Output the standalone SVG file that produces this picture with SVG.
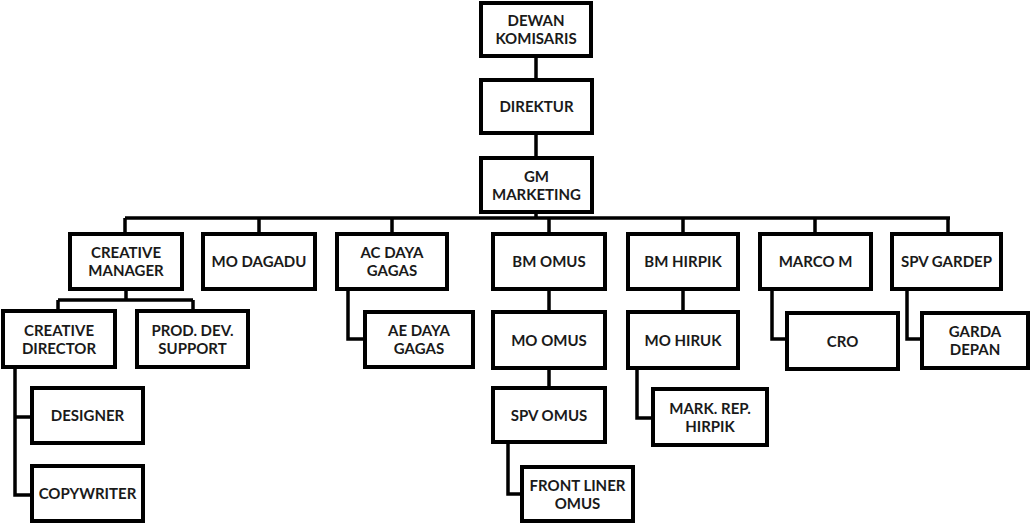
<svg xmlns="http://www.w3.org/2000/svg" width="1031" height="523" viewBox="0 0 1031 523">
<style>
.b{fill:#fff;stroke:#000;stroke-width:4}
.t{font-family:Lato,"Open Sans",sans-serif;font-weight:bold;font-size:15px;fill:#1a1a1a;text-anchor:middle}
.c{fill:none;stroke:#000;stroke-width:3.5}
</style>
<rect width="1031" height="523" fill="#fff"/>
<g id="connectors">
<path class="c" d="M536 56V80M536 133V158M536 212V218M125 218H950M125 218V234M259 218V234M392 218V234M549 218V234M683 218V234M815 218V234M948 218V234"/>
<path class="c" d="M126 289V300M58 300H193M58 300V311M193 300V311M15 367V495H32M15 417H32"/>
<path class="c" d="M348 289V339H365M549 289V312M549 368V388M508 442V494H522M683 289V312M637 368V418H653M772 289V339H787M907 289V339H922"/>
</g>
<g id="dewan"><rect class="b" x="481" y="3" width="110" height="53"/><text class="t" x="536" y="26">DEWAN</text><text class="t" x="536" y="44">KOMISARIS</text></g>
<g id="direktur"><rect class="b" x="481" y="80" width="111" height="53"/><text class="t" x="536.5" y="112">DIREKTUR</text></g>
<g id="gm"><rect class="b" x="481" y="158" width="111" height="54"/><text class="t" x="536.5" y="181.5">GM</text><text class="t" x="536.5" y="199.5">MARKETING</text></g>
<g id="creative-manager"><rect class="b" x="70" y="234" width="112" height="55"/><text class="t" x="126" y="258">CREATIVE</text><text class="t" x="126" y="276">MANAGER</text></g>
<g id="mo-dagadu"><rect class="b" x="203" y="234" width="112" height="55"/><text class="t" x="259" y="267">MO DAGADU</text></g>
<g id="ac-daya-gagas"><rect class="b" x="337" y="234" width="110" height="55"/><text class="t" x="392" y="258">AC DAYA</text><text class="t" x="392" y="276">GAGAS</text></g>
<g id="bm-omus"><rect class="b" x="493" y="234" width="112" height="55"/><text class="t" x="549" y="267">BM OMUS</text></g>
<g id="bm-hirpik"><rect class="b" x="628" y="234" width="110" height="55"/><text class="t" x="683" y="267">BM HIRPIK</text></g>
<g id="marco-m"><rect class="b" x="760" y="234" width="111" height="55"/><text class="t" x="815.5" y="267">MARCO M</text></g>
<g id="spv-gardep"><rect class="b" x="892" y="234" width="109" height="55"/><text class="t" x="946.5" y="267">SPV GARDEP</text></g>
<g id="creative-director"><rect class="b" x="3" y="311" width="112" height="56"/><text class="t" x="59" y="335.5">CREATIVE</text><text class="t" x="59" y="353.5">DIRECTOR</text></g>
<g id="prod-dev-support"><rect class="b" x="137" y="311" width="111" height="56"/><text class="t" x="192.5" y="335.5">PROD. DEV.</text><text class="t" x="192.5" y="353.5">SUPPORT</text></g>
<g id="ae-daya-gagas"><rect class="b" x="365" y="312" width="108" height="55"/><text class="t" x="419" y="336">AE DAYA</text><text class="t" x="419" y="354">GAGAS</text></g>
<g id="mo-omus"><rect class="b" x="493" y="312" width="112" height="56"/><text class="t" x="549" y="345.5">MO OMUS</text></g>
<g id="mo-hiruk"><rect class="b" x="628" y="312" width="110" height="56"/><text class="t" x="683" y="345.5">MO HIRUK</text></g>
<g id="cro"><rect class="b" x="787" y="313" width="111" height="56"/><text class="t" x="842.5" y="346.5">CRO</text></g>
<g id="garda-depan"><rect class="b" x="922" y="313" width="106" height="55"/><text class="t" x="975" y="337">GARDA</text><text class="t" x="975" y="355">DEPAN</text></g>
<g id="designer"><rect class="b" x="32" y="388" width="111" height="55"/><text class="t" x="87.5" y="421">DESIGNER</text></g>
<g id="copywriter"><rect class="b" x="32" y="466" width="111" height="55"/><text class="t" x="87.5" y="499">COPYWRITER</text></g>
<g id="spv-omus"><rect class="b" x="493" y="388" width="112" height="54"/><text class="t" x="549" y="420.5">SPV OMUS</text></g>
<g id="mark-rep-hirpik"><rect class="b" x="653" y="389" width="114" height="56"/><text class="t" x="710" y="413.5">MARK. REP.</text><text class="t" x="710" y="431.5">HIRPIK</text></g>
<g id="front-liner-omus"><rect class="b" x="522" y="467" width="111" height="54"/><text class="t" x="577.5" y="490.5">FRONT LINER</text><text class="t" x="577.5" y="508.5">OMUS</text></g>
</svg>
